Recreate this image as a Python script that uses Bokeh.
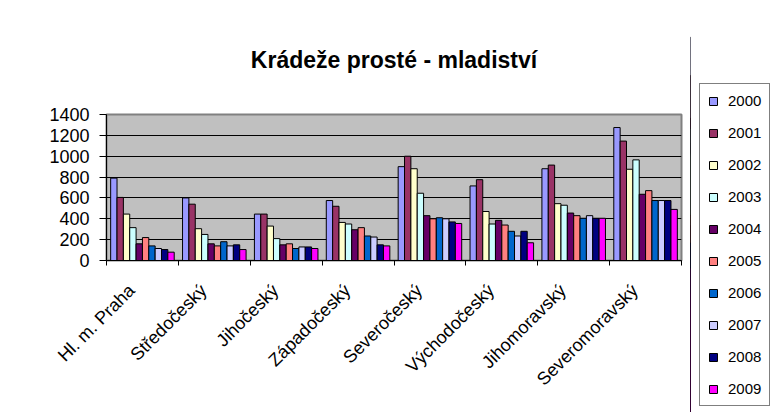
import math
from bokeh.plotting import figure
from bokeh.layouts import row
from bokeh.models import (Range1d, FixedTicker, Legend, LegendItem, ColumnDataSource)
from bokeh.transform import dodge
from bokeh.embed import file_html
from bokeh.resources import INLINE

title = "Krádeže prosté - mladiství"
regions = ["Hl. m. Praha", "Středočeský", "Jihočeský", "Západočeský",
           "Severočeský", "Východočeský", "Jihomoravský", "Severomoravský"]
years = ["2000", "2001", "2002", "2003", "2004", "2005", "2006", "2007", "2008", "2009"]

y2000 = [790, 600, 445, 575, 900, 715, 880, 1275]
y2001 = [605, 540, 445, 520, 1000, 775, 915, 1145]
y2002 = [445, 305, 330, 365, 880, 470, 545, 875]
y2003 = [315, 250, 210, 350, 645, 350, 530, 965]
y2004 = [160, 160, 150, 295, 430, 385, 455, 635]
y2005 = [220, 140, 160, 315, 400, 340, 430, 670]
y2006 = [140, 180, 115, 235, 410, 280, 405, 575]
y2007 = [115, 140, 130, 225, 400, 235, 430, 575]
y2008 = [105, 150, 130, 150, 370, 280, 405, 575]
y2009 = [80, 105, 115, 140, 355, 170, 405, 490]

series = [y2000, y2001, y2002, y2003, y2004, y2005, y2006, y2007, y2008, y2009]
colors = ["#9999FF", "#993366", "#FFFFCC", "#CCFFFF", "#660066",
          "#FF8080", "#0066CC", "#CCCCFF", "#000080", "#FF00FF"]

yticks = [0, 200, 400, 600, 800, 1000, 1200, 1400]

FONT = "Liberation Sans"
W1, W2, H = 690, 87, 412
FL, FR, FT, FB = 106, 681, 114, 260  # frame edges in canvas px

n = len(regions)
centers = [i + 0.5 for i in range(n)]
label_ticks = [c - 0.15 for c in centers]
data = {"region": regions, "pos": centers}
for yr, s in zip(years, series):
    data[yr] = s
src = ColumnDataSource(data)

p = figure(x_range=Range1d(0, n), y_range=Range1d(0, 1400),
           width=W1, height=H, output_backend="svg", toolbar_location=None,
           min_border_left=FL, min_border_right=W1 - FR, min_border_top=FT,
           min_border_bottom=H - FB, title=title)

p.title.text_font = FONT
p.title.text_font_size = "23px"
p.title.text_font_style = "bold"
p.title.text_color = "black"
p.title.align = "center"
p.title.offset = 5
p.title.standoff = 84

p.background_fill_color = "#C0C0C0"
p.border_fill_color = "white"
p.outline_line_color = "#808080"
p.outline_line_width = 2

group = 0.884
bw = group / len(years)
for i, (yr, col) in enumerate(zip(years, colors)):
    off = (i - (len(years) - 1) / 2) * bw
    p.vbar(x=dodge("pos", off), top=yr, width=bw, source=src,
           fill_color=col, line_color="black", line_width=1)

# y axis
p.yaxis.ticker = FixedTicker(ticks=yticks)
p.yaxis.major_label_text_font = FONT
p.yaxis.major_label_text_font_size = "18px"
p.yaxis.major_label_text_color = "black"
p.yaxis.axis_line_color = "black"
p.yaxis.major_tick_line_color = "black"
p.yaxis.major_tick_out = 7
p.yaxis.major_tick_in = 0
p.yaxis.minor_tick_line_color = None
p.yaxis.major_label_standoff = 10
p.ygrid.grid_line_color = "black"
p.ygrid.grid_line_width = 1
p.xgrid.grid_line_color = None

# x axis: labels near category centres, ticks at category boundaries
xa = p.xaxis[0]
xa.ticker = FixedTicker(ticks=label_ticks, minor_ticks=list(range(n + 1)))
xa.major_label_overrides = {c: r for c, r in zip(label_ticks, regions)}
xa.major_label_orientation = math.pi / 4
xa.major_label_text_font = FONT
xa.major_label_text_font_size = "18px"
xa.major_label_text_color = "black"
xa.axis_line_color = "black"
xa.major_tick_line_color = None
xa.minor_tick_line_color = "black"
xa.minor_tick_out = 5
xa.minor_tick_in = 0
xa.major_label_standoff = 21

# legend panel: a second figure whose frame fills it; its bars lie outside its range
lp = figure(width=W2, height=H, output_backend="svg", toolbar_location=None,
            x_axis_type=None, y_axis_type=None, x_range=Range1d(100, 101),
            y_range=Range1d(0, 1400), min_border=0, outline_line_color=None)
lp.xgrid.grid_line_color = None
lp.ygrid.grid_line_color = None
for fig in (p, lp):
    if "frame_align" in fig.properties():
        fig.frame_align = False

items = []
for i, (yr, col) in enumerate(zip(years, colors)):
    r = lp.vbar(x="pos", top=yr, width=bw, source=src,
                fill_color=col, line_color="black", line_width=1)
    items.append(LegendItem(label=yr, renderers=[r]))

legend = Legend(items=items, location=(9, 6), orientation="vertical",
                label_text_font=FONT, label_text_font_size="15px", label_text_color="black",
                glyph_width=10, glyph_height=10, label_height=16, spacing=15,
                padding=8, margin=0, label_standoff=10,
                border_line_color="black", border_line_width=1,
                background_fill_color="white", background_fill_alpha=1)
lp.add_layout(legend, "center")

layout = row(p, lp)
open("out.html", "w").write(file_html(layout, INLINE))
